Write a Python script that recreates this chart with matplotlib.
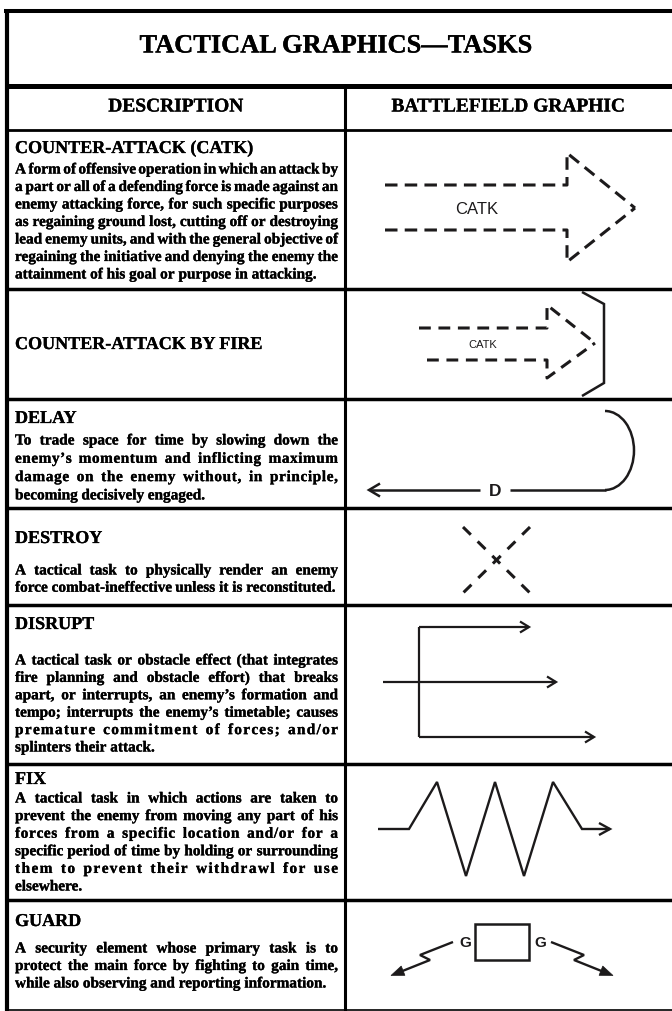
import numpy as np
import matplotlib
matplotlib.use("Agg")
import matplotlib.pyplot as plt
import matplotlib.patheffects as pe
from matplotlib.patches import Arc, Rectangle, Polygon
from matplotlib.font_manager import FontProperties

W, H = 672, 1011
INK = "#1c1a1b"

TITLE = "TACTICAL GRAPHICS—TASKS"
COL_HEADS = ["DESCRIPTION", "BATTLEFIELD GRAPHIC"]

TASKS = ["COUNTER-ATTACK (CATK)", "COUNTER-ATTACK BY FIRE", "DELAY", "DESTROY",
         "DISRUPT", "FIX", "GUARD"]

CATK_TEXT = [
    "A form of offensive operation in which an attack by",
    "a part or all of a defending force is made against an",
    "enemy attacking force, for such specific purposes",
    "as regaining ground lost, cutting off or destroying",
    "lead enemy units, and with the general objective of",
    "regaining the initiative and denying the enemy the",
    "attainment of his goal or purpose in attacking.",
]
DELAY_TEXT = [
    "To trade space for time by slowing down the",
    "enemy’s momentum and inflicting  maximum",
    "damage on the enemy without, in principle,",
    "becoming decisively engaged.",
]
DESTROY_TEXT = [
    "A tactical task to physically render an enemy",
    "force combat-ineffective unless it is reconstituted.",
]
DISRUPT_TEXT = [
    "A tactical task or obstacle effect (that integrates",
    "fire planning and obstacle effort) that breaks",
    "apart, or interrupts, an enemy’s formation and",
    "tempo; interrupts the enemy’s timetable; causes",
    "premature commitment of forces; and/or",
    "splinters their attack.",
]
FIX_TEXT = [
    "A tactical task in which actions are taken to",
    "prevent the enemy from moving any part of his",
    "forces from a specific location and/or for a",
    "specific period of time by holding or surrounding",
    "them to prevent their withdrawl for use",
    "elsewhere.",
]
GUARD_TEXT = [
    "A security element whose primary task is to",
    "protect the main force by fighting to gain time,",
    "while also observing and reporting information.",
]
DESCRIPTIONS = [CATK_TEXT, [], DELAY_TEXT, DESTROY_TEXT, DISRUPT_TEXT, FIX_TEXT, GUARD_TEXT]

# table layout in pixels
ROW_EDGES = [129, 289, 399, 508, 605, 764, 900]
HEAD_Y = [147, 343, 417, 537, 623, 778, 920]
BODY_Y0 = [169, None, 440, 570, 660, 798, 948]
LINE_STEP = [17.5, 0, 18.3, 17.2, 17.4, 17.6, 17.5]
TEXT_X0, TEXT_X1 = 15, 338
DIV_X = 345

fig = plt.figure(figsize=(W / 100, H / 100), dpi=100)
ax = fig.add_axes([0, 0, 1, 1])
ax.set_xlim(0, W)
ax.set_ylim(H, 0)
ax.axis("off")
renderer = fig.canvas.get_renderer()

serif = "Liberation Serif"
fp_title = FontProperties(family=serif, weight="bold", size=19)
fp_col = FontProperties(family=serif, weight="bold", size=14)
fp_task = FontProperties(family=serif, weight="bold", size=13)
fp_body = FontProperties(family=serif, weight="bold", size=11)
heavy = [pe.withStroke(linewidth=0.2, foreground="k")]


def tw(s, fp):
    return renderer.get_text_width_height_descent(s, fp, ismath=False)[0]


def put(x, y, s, fp):
    ax.text(x, y, s, fontproperties=fp, va="baseline", ha="left", color="k",
            path_effects=heavy)


def justified(line, y, fp, last):
    words = line.split()
    widths = [tw(w, fp) for w in words]
    sp = tw("a a", fp) - tw("aa", fp)
    avail = TEXT_X1 - TEXT_X0
    n = len(words)
    ls = 0.0
    if n == 1:
        gap = 0
    else:
        gap = (avail - sum(widths)) / (n - 1)
        if last:
            gap = min(gap, sp)
        elif gap > 2.4 * sp:
            # very loose line: spread the rest over the letters
            rest = (gap - 1.8 * sp) * (n - 1)
            gap = 1.8 * sp
            nch = sum(len(w) for w in words) - 1
            ls = rest / nch
    x = TEXT_X0
    for w, wd in zip(words, widths):
        if ls == 0:
            put(x, y, w, fp)
        else:
            for i, ch in enumerate(w):
                put(x + (tw(w[:i], fp) + ls * i if i else 0), y, ch, fp)
            wd = wd + ls * (len(w) - 1)
            x += ls
        x += wd + gap


# frame
ax.plot([4, W], [11, 11], color="k", lw=2.9, solid_capstyle="butt")
ax.plot([7, 7], [9, H], color="k", lw=3.0, solid_capstyle="butt")
ax.plot([5, W], [86, 86], color="k", lw=3.6, solid_capstyle="butt")
ax.plot([5, W], [129.5, 129.5], color="k", lw=2.0, solid_capstyle="butt")
ax.plot([DIV_X, DIV_X], [86, H], color="k", lw=2.2, solid_capstyle="butt")
for yy in ROW_EDGES[1:]:
    ax.plot([5, W], [yy, yy], color="k", lw=2.5, solid_capstyle="butt")
ax.plot([5, W], [1009.5, 1009.5], color="k", lw=1.2, solid_capstyle="butt")

ax.text(336, 46, TITLE, fontproperties=fp_title, ha="center", va="center", color="k",
        path_effects=heavy)
ax.text((7 + DIV_X) / 2, 107, COL_HEADS[0], fontproperties=fp_col, ha="center",
        va="center", color="k", path_effects=heavy)
ax.text((DIV_X + W) / 2, 107, COL_HEADS[1], fontproperties=fp_col, ha="center",
        va="center", color="k", path_effects=heavy)

for i, task in enumerate(TASKS):
    put(TEXT_X0, HEAD_Y[i] + 6, task, fp_task)
    lines = DESCRIPTIONS[i]
    for j, line in enumerate(lines):
        justified(line, BODY_Y0[i] + j * LINE_STEP[i] + 4.5, fp_body, j == len(lines) - 1)


# ---- battlefield graphics ----
def path(pts, dashed=None, lw=1.8):
    xs, ys = zip(*pts)
    kw = dict(color=INK, lw=lw, solid_joinstyle="miter", solid_capstyle="butt",
              dash_capstyle="butt")
    if dashed:
        kw["linestyle"] = (0, dashed)
    ax.plot(xs, ys, **kw)


def open_head(tip, frm, length, half, lw=1.8):
    tip = np.array(tip, float)
    d = tip - np.array(frm, float)
    d /= np.hypot(*d)
    n = np.array([-d[1], d[0]])
    base = tip - d * length
    p1, p2 = base + n * half, base - n * half
    ax.plot([p1[0], tip[0], p2[0]], [p1[1], tip[1], p2[1]], color=INK, lw=lw,
            solid_joinstyle="miter", solid_capstyle="butt")


def filled_head(tip, frm, length, half):
    tip = np.array(tip, float)
    d = tip - np.array(frm, float)
    d /= np.hypot(*d)
    n = np.array([-d[1], d[0]])
    base = tip - d * length
    ax.add_patch(Polygon([tip, base + n * half, base - n * half], closed=True,
                         facecolor=INK, edgecolor=INK, lw=0.5))


plt.rcParams["lines.scale_dashes"] = False
dash = (9.0, 5.2)

# counter-attack
path([(385, 185), (567, 185), (567, 153), (635, 208)], dashed=dash, lw=2.2)
path([(385, 230), (567, 230), (567, 262), (635, 208)], dashed=dash, lw=2.2)
ax.text(477, 210, "CATK", family="Liberation Sans", size=12, ha="center", va="center", color=INK)

# counter-attack by fire
path([(419, 328), (547, 328), (547, 305), (595, 343)], dashed=(8.5, 5.5), lw=2.2)
path([(427, 360), (547, 360), (547, 378), (595, 343)], dashed=(8.5, 5.5), lw=2.2)
ax.text(483, 345, "CATK", family="Liberation Sans", size=8, ha="center", va="center", color=INK)
path([(582, 292), (604, 304), (604, 383), (582, 396)], lw=1.8)

# delay
path([(370, 490), (480, 490)])
path([(510, 490), (606, 490)])
ax.add_patch(Arc((605, 450.5), 58, 79, theta1=-90, theta2=90, color=INK, lw=1.8))
open_head((369, 490), (400, 490), 11, 6.5)
ax.text(495, 491, "D", family="Liberation Sans", weight="bold", size=12.5, ha="center", va="center", color=INK)

# destroy
path([(463, 527), (530, 593)], dashed=(7.9, 6.9), lw=2.2)
path([(530, 527), (463, 593)], dashed=(7.9, 6.9), lw=2.2)

# disrupt
path([(419, 627), (419, 737)], lw=1.6)
path([(419, 627), (529, 627)], lw=1.6)
path([(383, 682), (556, 682)], lw=1.6)
path([(419, 737), (594, 737)], lw=1.6)
for tip in [(529, 627), (556, 682), (594, 737)]:
    open_head(tip, (tip[0] - 20, tip[1]), 9, 5.5, lw=1.6)

# fix
fix_pts = [(378, 829), (409, 829), (437, 782), (466, 876), (495, 782), (524, 876),
           (553, 782), (582, 829), (610, 829)]
path(fix_pts, lw=1.7)
open_head((610, 829), (590, 829), 11, 6, lw=1.7)

# guard
ax.add_patch(Rectangle((475, 924), 54, 36, fill=False, edgecolor=INK, lw=1.8))
ax.text(465, 943, "G", family="Liberation Sans", weight="bold", size=11, ha="center", va="center", color=INK)
ax.text(540, 943, "G", family="Liberation Sans", weight="bold", size=11, ha="center", va="center", color=INK)
left = [(453, 942), (420, 955), (430, 960), (400, 972)]
for side in (1, -1):
    pts = [(502 + side * (x - 502), y) for x, y in left]
    path(pts, lw=1.7)
    tip = (502 + side * (391 - 502), 975.5)
    filled_head(tip, pts[2], 13, 5)

fig.savefig("out.png", dpi=100)
